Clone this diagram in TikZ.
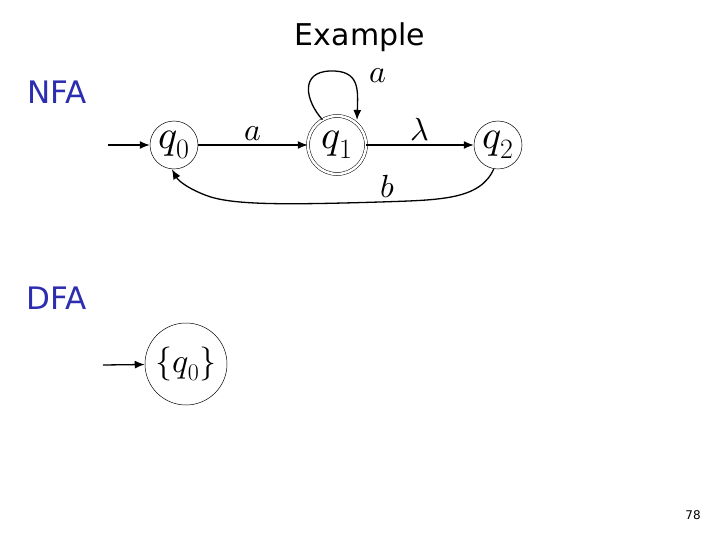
\documentclass[tikz,border=0pt]{standalone}
\usepackage{fontspec}
\usepackage{unicode-math}
\setmathfont{Latin Modern Math}
\setsansfont{DejaVu Sans}
\usetikzlibrary{arrows.meta}
\definecolor{titleblue}{RGB}{45,45,175}
\newcommand\stq[2][28]{$q_{\mbox{\fontsize{#1}{#1}\selectfont #2}}$}
\begin{document}
\begin{tikzpicture}[x=1pt,y=-1pt,
  state/.style={circle,draw,line width=0.5pt,minimum size=48pt,inner sep=0pt,font=\fontsize{40}{42}\selectfont},
  edge/.style={line width=1.3pt,-{Latex[length=10pt,width=8pt]}},
  elabel/.style={font=\fontsize{32}{34}\selectfont},
  heading/.style={font=\sffamily\fontsize{31}{34}\selectfont,text=titleblue}]
\useasboundingbox (0,0) rectangle (720,540);
\node[font=\sffamily\fontsize{30}{34}\selectfont] (title) at (360,37) {Example};
\node[heading] (nfa) at (57,92) {NFA};
\node[heading] (dfa) at (57,298) {DFA};
\node[font=\sffamily\fontsize{12}{14}\selectfont] (page) at (693,515) {78};
% NFA
\node[state] (q0) at (174,145) {\stq{0}};
\node[state,minimum size=58pt,double,double distance=2.5pt] (q1) at (337,145) {\stq{1}};
\node[state] (q2) at (498,145) {\stq{2}};
\coordinate (s0) at (108,145);
\draw[edge] (s0) -- (q0);
\draw[edge] (q0) -- node[elabel,above=0pt] {$a$} (q1);
\draw[edge] (q1) -- node[elabel,above=0pt] {$\lambda$} (q2);
\draw[edge] (q1.120) .. controls (305,100) and (300,72) .. (330,71)
  .. controls (360,70) and (358,90) .. (357,120);
\node[elabel] (la) at (378,76) {$a$};
\draw[edge] (q2.260) .. controls (480,200) and (440,200) .. (380,202)
  .. controls (280,205) and (230,205) .. (205,195) .. controls (185,187) and (178,180) .. (q0.265);
\node[elabel] (lb) at (388,187) {$b$};
% DFA
\node[state,minimum size=82pt,font=\fontsize{34}{36}\selectfont] (d0) at (186,364) {$\{$\stq[24]{0}$\}$};
\coordinate (s1) at (103,365);
\draw[edge] (s1) -- (d0);
\end{tikzpicture}
\end{document}
